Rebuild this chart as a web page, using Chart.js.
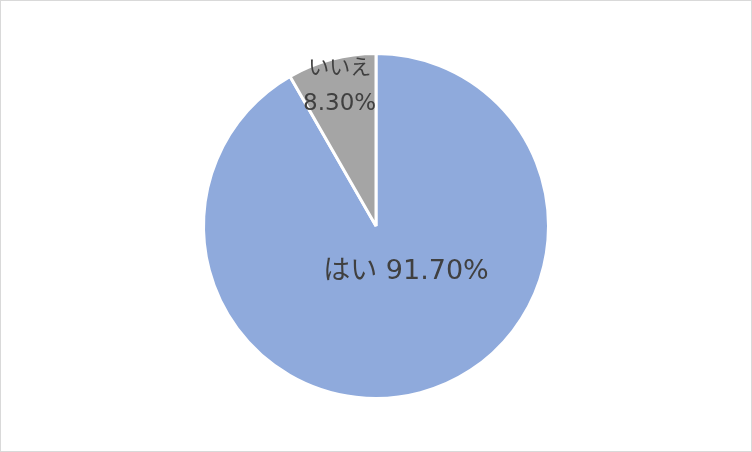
<!DOCTYPE html>
<html>
<head>
<meta charset="utf-8">
<script src="https://cdn.jsdelivr.net/npm/chart.js@4"></script>
<style>
  html, body { margin: 0; padding: 0; background: #fff; }
  #wrap { position: relative; width: 752px; height: 452px; }
  #frame { position: absolute; left: 0; top: 0; width: 752px; height: 452px; box-sizing: border-box; border: 1.5px solid #d9d9d9; pointer-events: none; }
  canvas { position: absolute; left: 0; top: 0; }
</style>
</head>
<body>
<div id="wrap">
  <canvas id="pie" width="752" height="452"></canvas>
  <div id="frame"></div>
</div>
<script>
// 回答の内訳
const labels  = ['はい', 'いいえ'];
const values  = [91.7, 8.3];
const colors  = ['#8faadc', '#a5a5a5'];

const fmtPct = v => v.toFixed(2) + '%';
const FONT = '"DejaVu Sans", "Noto Sans CJK JP", sans-serif';

// ラベル描画（Excel風の配置）
const labelPlugin = {
  id: 'sliceLabels',
  afterDatasetsDraw(chart) {
    const ctx = chart.ctx;
    const arcs = chart.getDatasetMeta(0).data;
    ctx.save();
    ctx.fillStyle = '#404040';
    ctx.textAlign = 'center';
    ctx.textBaseline = 'middle';
    arcs.forEach((arc, i) => {
      const { x, y, startAngle, endAngle, outerRadius } = arc.getProps(['x', 'y', 'startAngle', 'endAngle', 'outerRadius'], true);
      const mid = (startAngle + endAngle) / 2;
      if (i === 0) {
        ctx.font = '27px ' + FONT;
        ctx.fillText(labels[i] + ' ' + fmtPct(values[i]), x + 30, y + 46);
      } else {
        const r = outerRadius * 0.84;
        const cx = x + Math.cos(mid) * r, cy = y + Math.sin(mid) * r;
        ctx.font = '21px ' + FONT;
        ctx.fillText(labels[i], cx + 1, cy - 17);
        ctx.font = '23px ' + FONT;
        ctx.fillText(fmtPct(values[i]), cx + 1, cy + 18);
      }
    });
    ctx.restore();
  }
};

new Chart(document.getElementById('pie'), {
  type: 'pie',
  data: {
    labels,
    datasets: [{ data: values, backgroundColor: colors, borderColor: '#ffffff', borderWidth: 3 }]
  },
  options: {
    responsive: false,
    animation: false,
    layout: { padding: { top: 52, bottom: 52 } },
    plugins: { legend: { display: false }, tooltip: { enabled: false } }
  },
  plugins: [labelPlugin]
});
</script>
</body>
</html>
